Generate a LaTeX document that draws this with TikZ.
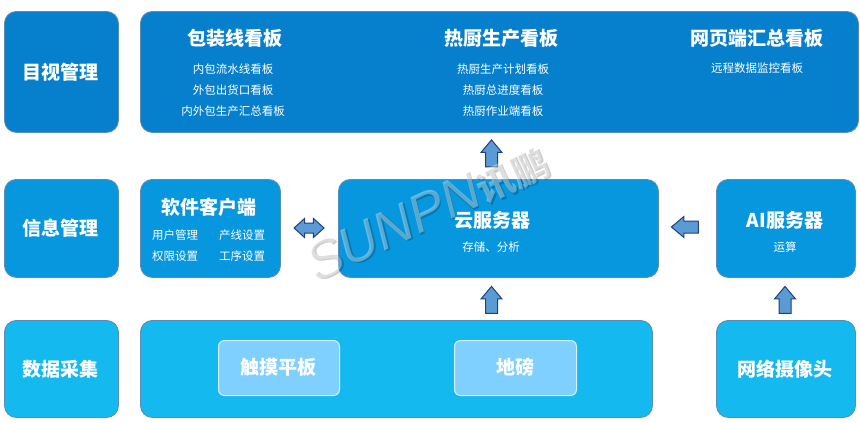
\documentclass[tikz,border=0pt]{standalone}
\usepackage{fontspec}
\setmainfont{Noto Sans CJK SC}
\newfontfamily\wmlatin{Liberation Sans}
\usetikzlibrary{shapes.arrows}
\definecolor{topblue}{HTML}{0680CC}
\definecolor{midblue}{HTML}{0797DE}
\definecolor{lowblue}{HTML}{14B9F0}
\definecolor{innerblue}{HTML}{7FD0FF}
\definecolor{edgeblue}{HTML}{5A8DB5}
\definecolor{arrowfill}{HTML}{5B9BD5}
\definecolor{arrowedge}{HTML}{1F3F7F}
\tikzset{
 box/.style={draw=edgeblue,line width=0.9pt,rounded corners=12pt,inner sep=0pt},
 topbox/.style={box,fill=topblue},
 midbox/.style={box,fill=midblue},
 lowbox/.style={box,fill=lowblue},
 innerbox/.style={draw=white!70!innerblue,line width=1pt,fill=innerblue,rounded corners=6pt},
 big/.style={text=white,font=\fontsize{19}{19}\selectfont\bfseries,inner sep=0pt},
 small/.style={text=white,font=\fontsize{11.5}{12}\selectfont,inner sep=0pt},
 blockup/.style={single arrow,draw=arrowedge,line width=1pt,fill=arrowfill,shape border rotate=90,
   minimum height=27pt,minimum width=20pt,single arrow head extend=4.5pt,inner sep=5.5pt,single arrow tip angle=80},
 blockleft/.style={blockup,shape border rotate=180},
 blockboth/.style={double arrow,draw=arrowedge,line width=1pt,fill=arrowfill,minimum height=30pt,minimum width=18pt,
   double arrow head extend=4.5pt,inner sep=4.5pt,double arrow tip angle=84},
 wmark/.style={rotate=25,inner sep=0pt}
}
\newcommand{\rbox}[6]{\node[#1,minimum width=#4 pt-#2 pt,minimum height=#5 pt-#3 pt,anchor=north west] (#6) at (#2,#3) {};}
\newcommand{\wmtext}{{\fontsize{53}{53}\selectfont\wmlatin\itshape SUNPN}{\fontsize{37}{37}\selectfont\bfseries 讯鹏}}
\begin{document}
\begin{tikzpicture}[x=1pt,y=-1pt]
\useasboundingbox (0,0) rectangle (860,423);
\rbox{topbox}{4}{11}{118}{132}{visual}
\rbox{topbox}{140}{11}{858}{132}{boards}
\rbox{midbox}{4}{179}{118}{277}{info}
\rbox{midbox}{140}{179}{280}{277}{client}
\rbox{midbox}{338}{179}{658}{277}{cloud}
\rbox{midbox}{716}{179}{855}{277}{ai}
\rbox{lowbox}{4}{320}{118}{417}{data}
\rbox{lowbox}{140}{320}{652}{417}{devices}
\rbox{lowbox}{716}{320}{855}{417}{camera}
\rbox{innerbox}{218}{340}{339}{395}{touch}
\rbox{innerbox}{454}{340}{576}{395}{scale}
\node[big] (t1) at (61,72) {目视管理};
\node[big] (t2) at (61,228) {信息管理};
\node[big] (t3) at (61,369) {数据采集};
\node[big] (a1) at (235,38) {包装线看板};
\node[small] (a2) at (233,69) {内包流水线看板};
\node[small] (a3) at (233,90) {外包出货口看板};
\node[small] (a4) at (233,111) {内外包生产汇总看板};
\node[big] (b1) at (501,38) {热厨生产看板};
\node[small] (b2) at (503,69) {热厨生产计划看板};
\node[small] (b3) at (503,90) {热厨总进度看板};
\node[small] (b4) at (503,111) {热厨作业端看板};
\node[big] (c1) at (757,38) {网页端汇总看板};
\node[small] (c2) at (757,68) {远程数据监控看板};
\node[big] (d1) at (209,207) {软件客户端};
\node[small] (d2) at (175,235) {用户管理};
\node[small] (d3) at (242,235) {产线设置};
\node[small] (d4) at (175,256) {权限设置};
\node[small] (d5) at (242,256) {工序设置};
\node[big] (e1) at (492,220) {云服务器};
\node[small] (e2) at (491,247) {存储、分析};
\node[big] (f1) at (785,220) {AI服务器};
\node[small] (f2) at (785,247) {运算};
\node[big] (g1) at (278,367) {触摸平板};
\node[big] (g2) at (515,367) {地磅};
\node[big] (g3) at (785,369) {网络摄像头};
\node[blockup] (u1) at (491.5,157) {};
\node[blockup] (u2) at (491.5,303.5) {};
\node[blockup] (u3) at (785,303.5) {};
\node[blockleft] (l1) at (688.5,227) {};
\node[blockboth] (dbl) at (309,228) {};
\node[wmark,text=black,text opacity=0.2] (ws) at (429,214) {\wmtext};
\node[wmark,text=white,text opacity=0.35] (wm) at (427.5,212.5) {\wmtext};
\end{tikzpicture}
\end{document}
